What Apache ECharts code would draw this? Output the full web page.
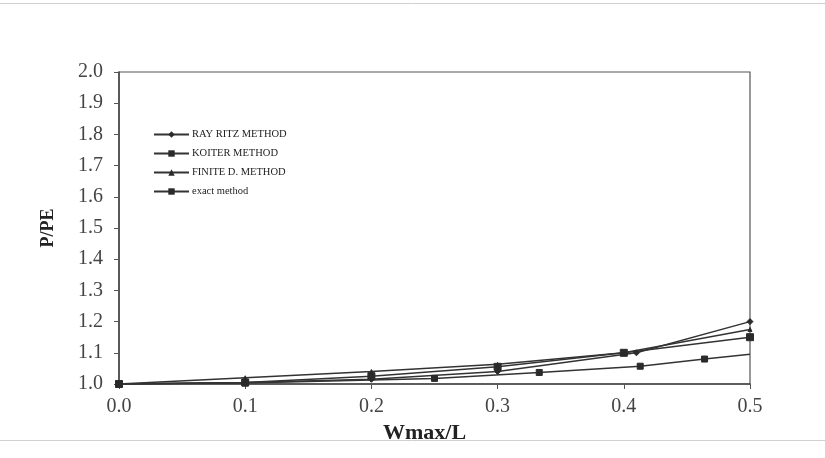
<!DOCTYPE html>
<html>
<head>
<meta charset="utf-8">
<script src="https://cdn.jsdelivr.net/npm/echarts@6/dist/echarts.min.js"></script>
<style>
  html, body { margin: 0; padding: 0; background: #fff; }
  #chart { width: 825px; height: 458px; }
</style>
</head>
<body>
<div id="chart"></div>
<script>
// Load ratio P/PE against deflection ratio Wmax/L for four solution methods
var seriesNames = ['RAY RITZ METHOD', 'KOITER METHOD', 'FINITE D. METHOD', 'exact method'];

var rayRitzX = [0.0, 0.1, 0.2, 0.3, 0.41, 0.5];
var rayRitzY = [1.0, 1.005, 1.015, 1.04, 1.10, 1.20];

var koiterX = [0.0, 0.1, 0.2, 0.3, 0.4, 0.5];
var koiterY = [1.0, 1.005, 1.025, 1.055, 1.10, 1.15];

var finiteX = [0.0, 0.1, 0.2, 0.3, 0.4, 0.5];
var finiteY = [1.0, 1.02, 1.04, 1.063, 1.10, 1.175];

var exactX = [0.0, 0.1, 0.25, 0.333, 0.413, 0.464, 0.5];
var exactY = [1.0, 1.003, 1.018, 1.037, 1.057, 1.08, 1.095];

var xTicks = [0.0, 0.1, 0.2, 0.3, 0.4, 0.5];
var yTicks = [1.0, 1.1, 1.2, 1.3, 1.4, 1.5, 1.6, 1.7, 1.8, 1.9, 2.0];

function pairs(xs, ys) {
  return xs.map(function (x, i) { return [x, ys[i]]; });
}

var serif = '"Liberation Serif", "DejaVu Serif", serif';
var ink = '#333';

function lineSeries(name, data, symbol, size) {
  return {
    name: name,
    type: 'line',
    data: data,
    symbol: symbol,
    symbolSize: size,
    showAllSymbol: true,
    lineStyle: { color: ink, width: 1.5 },
    itemStyle: { color: '#2a2a2a', borderColor: '#2a2a2a' },
    z: 3
  };
}

// the exact-method curve runs on to the right edge without a marker at its end
var exactSeries = lineSeries(seriesNames[3], pairs(exactX, exactY), 'rect', 6);
exactSeries.symbolSize = function (value, params) {
  return params.dataIndex === exactX.length - 1 ? 0 : 6;
};

var chart = echarts.init(document.getElementById('chart'), null, { renderer: 'canvas' });
chart.setOption({
  animation: false,
  backgroundColor: '#fff',
  graphic: [{
    type: 'rect',
    shape: { x: -2, y: 3.5, width: 829, height: 437 },
    style: { fill: 'none', stroke: '#d0d0d0', lineWidth: 1 },
    silent: true
  }],
  grid: {
    left: 119, right: 75, top: 72, bottom: 74,
    show: true, borderColor: '#555', borderWidth: 1.2, backgroundColor: 'transparent'
  },
  legend: {
    orient: 'vertical',
    left: 148, top: 124,
    itemWidth: 35, itemHeight: 8, itemGap: 8,
    textStyle: { fontFamily: serif, fontSize: 10.5, color: '#222', padding: [0, 0, 0, -2] },
    data: seriesNames
  },
  xAxis: {
    type: 'value',
    min: 0, max: 0.5, interval: 0.1,
    name: 'Wmax/L',
    nameLocation: 'middle',
    nameGap: 26,
    nameTextStyle: { fontFamily: serif, fontSize: 22, fontWeight: 'bold', color: '#222', padding: [0, 20, 0, 0] },
    axisLine: { lineStyle: { color: '#444', width: 1.5 } },
    axisTick: { show: true, length: 5, lineStyle: { color: '#555' } },
    axisLabel: {
      fontFamily: serif, fontSize: 20, color: '#444', margin: 13,
      formatter: function (v) { return v.toFixed(1); }
    },
    splitLine: { show: false }
  },
  yAxis: {
    type: 'value',
    min: 1, max: 2, interval: 0.1,
    name: 'P/PE',
    nameLocation: 'middle',
    nameGap: 62,
    nameTextStyle: { fontFamily: serif, fontSize: 18, fontWeight: 'bold', color: '#222' },
    axisLine: { show: true, lineStyle: { color: '#444', width: 1.5 } },
    axisTick: { show: true, length: 5, lineStyle: { color: '#555' } },
    axisLabel: {
      fontFamily: serif, fontSize: 20, color: '#444', margin: 16,
      formatter: function (v) { return v.toFixed(1); }
    },
    splitLine: { show: false }
  },
  series: [
    lineSeries(seriesNames[0], pairs(rayRitzX, rayRitzY), 'diamond', 6),
    lineSeries(seriesNames[1], pairs(koiterX, koiterY), 'rect', 7),
    lineSeries(seriesNames[2], pairs(finiteX, finiteY), 'triangle', 4),
    exactSeries
  ]
});
</script>
</body>
</html>
